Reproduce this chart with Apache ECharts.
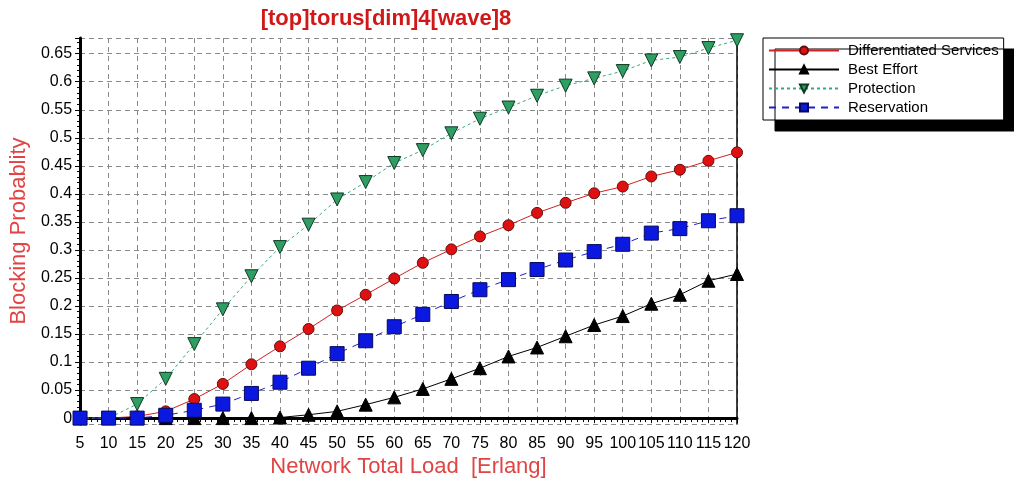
<!DOCTYPE html>
<html>
<head>
<meta charset="utf-8">
<script src="https://cdn.jsdelivr.net/npm/echarts@6/dist/echarts.min.js"></script>
<style>
  html, body { margin: 0; padding: 0; background: #fff; }
  #chart { width: 1014px; height: 483px; }
</style>
</head>
<body>
<div id="chart"></div>
<script>
// network load (Erlang)
const loads = [5, 10, 15, 20, 25, 30, 35, 40, 45, 50, 55, 60, 65, 70, 75, 80, 85, 90, 95, 100, 105, 110, 115, 120];

// blocking probability per scheme
const diffServ = [0, 0, 0.003, 0.012, 0.034, 0.061, 0.096, 0.128, 0.159, 0.192, 0.220, 0.249, 0.277, 0.301, 0.324, 0.344, 0.366, 0.384, 0.401, 0.413, 0.431, 0.443, 0.459, 0.474];
const bestEffort = [0, 0, 0, 0, 0, 0, 0, 0.001, 0.006, 0.012, 0.024, 0.037, 0.052, 0.070, 0.089, 0.110, 0.126, 0.146, 0.166, 0.182, 0.204, 0.220, 0.245, 0.257];
const protection = [0, 0, 0.025, 0.070, 0.132, 0.194, 0.253, 0.305, 0.345, 0.390, 0.421, 0.455, 0.478, 0.508, 0.534, 0.554, 0.575, 0.593, 0.606, 0.619, 0.638, 0.644, 0.660, 0.674];
const reservation = [0, 0, 0, 0.005, 0.014, 0.025, 0.044, 0.064, 0.089, 0.115, 0.138, 0.163, 0.185, 0.208, 0.229, 0.247, 0.265, 0.282, 0.297, 0.310, 0.330, 0.338, 0.352, 0.361];

const pairs = (ys) => loads.map((x, i) => [x, ys[i]]);

const chart = echarts.init(document.getElementById('chart'));

const gridDash = { color: '#8a8a8a', width: 1, type: [5, 4] };
const font = 'Liberation Sans, Arial, sans-serif';

chart.setOption({
  backgroundColor: '#fff',
  animation: false,
  title: {
    text: '[top]torus[dim]4[wave]8',
    left: 381,
    textAlign: 'center',
    top: 3,
    textStyle: { color: '#d01818', fontSize: 22, fontWeight: 'bold', fontFamily: font },
  },
  legend: {
    orient: 'vertical',
    left: 763,
    top: 38,
    padding: [5, 5, 5, 5],
    itemGap: 4,
    itemWidth: 70,
    itemHeight: 10,
    backgroundColor: '#fff',
    borderColor: '#000',
    borderWidth: 1,
    borderRadius: 0,
    shadowColor: '#000',
    shadowBlur: 0,
    shadowOffsetX: 12,
    shadowOffsetY: 11,
    textStyle: { color: '#000', fontSize: 15, fontFamily: font, padding: [0, 0, 0, 4] },
    data: ['Differentiated Services', 'Best Effort', 'Protection', 'Reservation'],
  },
  grid: { left: 76, right: 277, top: 38, bottom: 57 },
  xAxis: [
    {
      type: 'value',
      min: 5,
      max: 120,
      interval: 5,
      name: 'Network Total Load  [Erlang]',
      nameLocation: 'middle',
      nameGap: 28,
      nameTextStyle: { color: '#e04444', fontSize: 22, fontFamily: font },
      axisLine: { show: true, lineStyle: { color: '#000', width: 3 } },
      axisTick: { show: true, length: 5, lineStyle: { color: '#000' } },
      minorTick: { show: true, splitNumber: 5, length: 4, lineStyle: { color: '#000' } },
      axisLabel: { color: '#000', fontSize: 16, fontFamily: font, margin: 11 },
      splitLine: { show: true, lineStyle: gridDash },
    },
    {
      type: 'value',
      position: 'top',
      min: 5,
      max: 120,
      axisLine: { show: true, lineStyle: { color: '#000', width: 2 } },
      axisTick: { show: false },
      axisLabel: { show: false },
      splitLine: { show: false },
    },
  ],
  yAxis: [
    {
      type: 'value',
      min: -0.0107,
      max: 0.678,
      minInterval: 0.05,
      maxInterval: 0.05,
      name: 'Blocking Probablity',
      nameLocation: 'middle',
      nameGap: 45,
      nameTextStyle: { color: '#e04444', fontSize: 22, fontFamily: font },
      axisLine: { show: true, lineStyle: { color: '#000', width: 3 } },
      axisTick: { show: true, length: 5, lineStyle: { color: '#000' } },
      minorTick: { show: true, splitNumber: 5, length: 3, lineStyle: { color: '#000' } },
      axisLabel: {
        color: '#000',
        fontSize: 16,
        fontFamily: font,
        margin: 8,
        showMinLabel: false,
        showMaxLabel: false,
        formatter: (v) => String(Math.round(v * 100) / 100),
      },
      splitLine: { show: true, lineStyle: gridDash },
    },
    {
      type: 'value',
      position: 'right',
      min: -0.0107,
      max: 0.678,
      axisLine: { show: true, lineStyle: { color: '#000', width: 1.5 } },
      axisTick: { show: false },
      axisLabel: { show: false },
      splitLine: { show: false },
    },
  ],
  series: [
    {
      name: 'Differentiated Services',
      type: 'line',
      data: pairs(diffServ),
      symbol: 'circle',
      symbolSize: 11,
      lineStyle: { color: '#d42020', width: 1 },
      itemStyle: { color: '#e01010', borderColor: '#601010', borderWidth: 1 },
    },
    {
      name: 'Best Effort',
      type: 'line',
      data: pairs(bestEffort),
      symbol: 'triangle',
      symbolSize: 13,
      lineStyle: { color: '#000', width: 1 },
      itemStyle: { color: '#000', borderColor: '#000', borderWidth: 1 },
    },
    {
      name: 'Protection',
      type: 'line',
      data: pairs(protection),
      symbol: 'triangle',
      symbolRotate: 180,
      symbolSize: 13,
      lineStyle: { color: '#3aa87a', width: 1, type: [3, 3] },
      itemStyle: { color: '#2f9e62', borderColor: '#0c3a22', borderWidth: 1 },
    },
    {
      name: 'Reservation',
      type: 'line',
      data: pairs(reservation),
      symbol: 'rect',
      symbolSize: 14,
      lineStyle: { color: '#2020c8', width: 1, type: [7, 6] },
      itemStyle: { color: '#0a18e0', borderColor: '#08085a', borderWidth: 1 },
    },
  ],
});
</script>
</body>
</html>
